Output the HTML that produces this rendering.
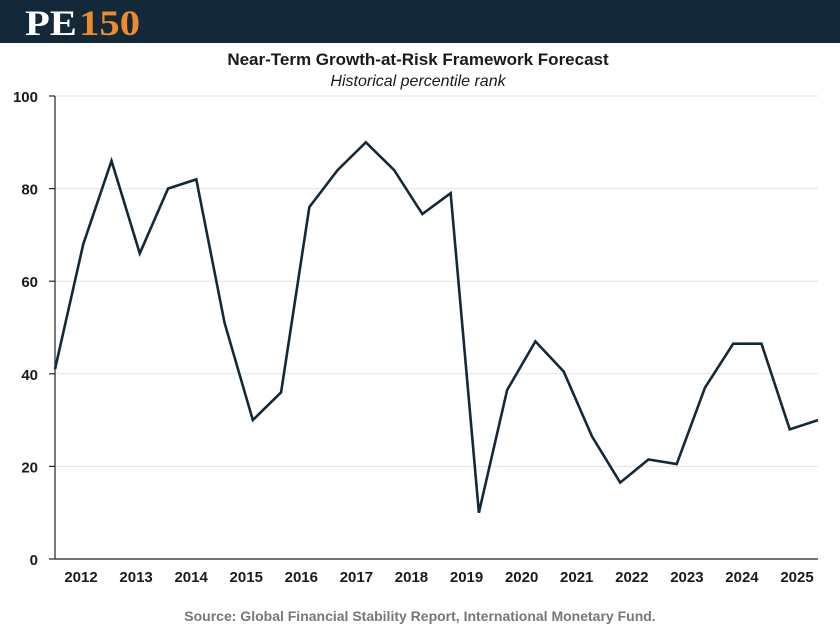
<!DOCTYPE html>
<html><head><meta charset="utf-8"><style>
body{margin:0;width:840px;height:627px;background:#fff;overflow:hidden;font-family:"Liberation Sans",sans-serif}
#hdr{position:absolute;left:0;top:0;width:840px;height:43px;background:#13293a}
</style></head><body>
<div id="hdr"></div>
<svg id="c" width="840" height="627" style="position:absolute;left:0;top:0">
<text x="25" y="35" font-family="Liberation Serif,serif" font-weight="bold" font-size="36" fill="#fff" textLength="115" lengthAdjust="spacingAndGlyphs">PE<tspan fill="#f08a2a" dx="2">150</tspan></text>
<text x="418" y="65" text-anchor="middle" font-weight="bold" font-size="17" fill="#1a1a1a">Near-Term Growth-at-Risk Framework Forecast</text>
<text x="418" y="86" text-anchor="middle" font-style="italic" font-size="16" fill="#1a1a1a">Historical percentile rank</text>
<text x="420" y="621" text-anchor="middle" font-weight="bold" font-size="14" fill="#777">Source: Global Financial Stability Report, International Monetary Fund.</text>
<g id="plot"></g>
</svg>
<script>
const values=[41,68,86,66,80,82,51,30,36,76,84,90,84,74.5,79,10,36.5,47,40.5,26.5,16.5,21.5,20.5,37,46.5,46.5,28,30];
const yTicks=[0,20,40,60,80,100];
const years=[2012,2013,2014,2015,2016,2017,2018,2019,2020,2021,2022,2023,2024,2025];
const ns='http://www.w3.org/2000/svg';
const g=document.getElementById('plot');
const x0=55,x1=818,yTop=96,yBot=559;
const xs=i=>x0+(x1-x0)*i/(values.length-1);
const ys=v=>yBot-(yBot-yTop)*v/100;
const yearX=y=>81+55.08*(y-2012);
function mk(t,a){const e=document.createElementNS(ns,t);for(const k in a)e.setAttribute(k,a[k]);g.appendChild(e);return e;}
yTicks.forEach(t=>{
  if(t>0){const l=mk('line',{x1:x0,x2:x1,y1:ys(t),y2:ys(t),stroke:'#e3e3e3','stroke-width':1});
  
  }
  const tk=mk('line',{x1:49,x2:x0,y1:ys(t),y2:ys(t),stroke:'#222','stroke-width':1.2});
  
  
  const tx=mk('text',{x:38,y:ys(t)+6,'text-anchor':'end','font-weight':'bold','font-size':15,fill:'#1a1a1a'});
  tx.textContent=t;
  
  
});
const ax=mk('line',{x1:x0,x2:x0,y1:yTop,y2:yBot,stroke:'#222','stroke-width':1.2});


const bx=mk('line',{x1:x0,x2:x1,y1:yBot,y2:yBot,stroke:'#222','stroke-width':1.2});


years.forEach(y=>{
  const tx=mk('text',{x:yearX(y),y:582,'text-anchor':'middle','font-weight':'bold','font-size':15,fill:'#1a1a1a'});
  tx.textContent=y;
  
  
});
const p=mk('polyline',{points:values.map((v,i)=>xs(i)+','+ys(v)).join(' '),fill:'none',stroke:'#13293a','stroke-width':2.6,'stroke-linejoin':'miter'});


</script>
</body></html>
